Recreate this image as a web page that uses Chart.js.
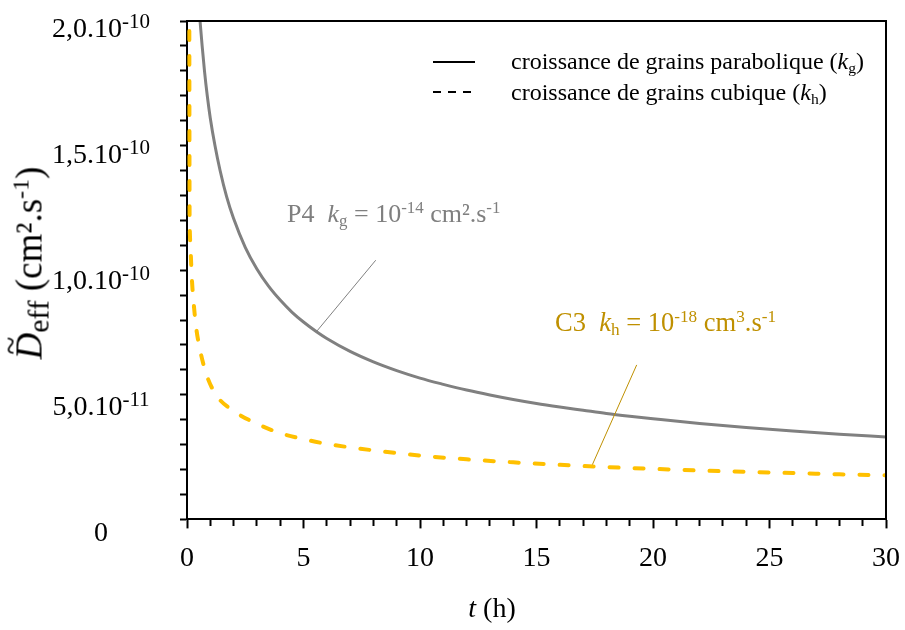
<!DOCTYPE html>
<html>
<head>
<meta charset="utf-8">
<script src="https://cdn.jsdelivr.net/npm/chart.js@4.4.0/dist/chart.umd.min.js"></script>
<style>
  html, body { margin: 0; padding: 0; background: #fff; }
  #cadre { position: relative; width: 905px; height: 630px; font-family: "Liberation Serif", "Times New Roman", serif; color: #000; }
  #cadre canvas { position: absolute; left: 0; top: 0; }
  .txt { position: absolute; white-space: pre; line-height: 1; }
  .txt sup, .txt sub { font-size: 65%; line-height: 0; }
  .txt sup { vertical-align: 0.55em; }
  .txt sub { vertical-align: -0.25em; }
  .trait { position: absolute; height: 2px; }
</style>
</head>
<body>
<div id="cadre">
  <canvas id="graf" width="905" height="630"></canvas>

  <div class="trait" style="left:433px; top:61px; width:42px; background:#000;"></div>
  <div class="trait" style="left:433px; top:91px; width:39px; background:repeating-linear-gradient(to right, #000 0 8.5px, transparent 8.5px 15px);"></div>
  <div class="txt" style="left:511px; top:49px; font-size:24px;">croissance de grains parabolique (<i>k</i><sub>g</sub>)</div>
  <div class="txt" style="left:511px; top:80px; font-size:24px;">croissance de grains cubique (<i>k</i><sub>h</sub>)</div>

  <div class="txt" style="left:287px; top:201px; font-size:26px; color:#7f7f7f;">P4  <i>k</i><sub>g</sub> = 10<sup>-14</sup> cm².s<sup>-1</sup></div>
  <div class="txt" style="left:555px; top:309px; font-size:26.5px; color:#bf9000;">C3  <i>k</i><sub>h</sub> = 10<sup>-18</sup> cm<sup>3</sup>.s<sup>-1</sup></div>

  <div class="txt" style="left:29px; top:263px; font-size:37px; transform:translate(-50%,-50%) rotate(-90deg);"><span style="position:relative; display:inline-block;"><i>D</i><span style="position:absolute; left:0.14em; top:-0.5em; font-size:0.9em;">~</span></span><sub style="font-size:80%">eff</sub> (cm².s<sup style="font-size:65%">-1</sup>)</div>
  <div class="txt" style="left:492px; top:608px; font-size:28px; transform:translate(-50%,-50%);"><i>t</i> (h)</div>
</div>

<script>
// D_eff en unités de 1e-12 cm².s-1, t en heures
const tGris = [0.56, 0.65, 0.75, 0.87, 1, 1.2, 1.42, 1.7, 2, 2.5, 3, 3.5, 4, 4.5, 5, 5.56, 6, 7, 8, 9, 10,
               11, 12, 13, 14, 15, 16, 17, 18, 19, 20, 22, 24, 26, 28, 30];
const dGris = [200, 190, 180, 170, 161, 150, 140, 129.5, 120.7, 109.2, 100.5, 93.6, 88, 83.2, 79.2, 75.3, 72.6, 67.4, 63.2, 59.7, 56.7,
               54.2, 51.9, 49.9, 48.1, 46.5, 45.1, 43.8, 42.5, 41.4, 40.4, 38.5, 36.9, 35.5, 34.2, 33.1];

const tJaune = [0.1, 0.11, 0.12, 0.16, 0.21, 0.29, 0.39, 0.57, 0.85, 1.27, 2, 3, 4, 5, 6, 7, 8, 9, 10,
                12, 14, 16, 18, 20, 22, 24, 26, 28, 30];
const dJaune = [196, 125, 116, 107, 96.4, 86.4, 77.2, 67.6, 57.7, 49.7, 43.5, 38.4, 34.6, 32.2, 30.3, 28.9, 27.7, 26.6, 25.6,
                24.1, 22.9, 21.9, 21.0, 20.3, 19.6, 19.1, 18.6, 18.1, 17.7];

// étiquettes de l'axe Y (tous les 50e-12) : mantisse + exposant
const yTicksValeurs = [0, 50, 100, 150, 200];
const yTicksMantisse = ['0', '5,0.10', '1,0.10', '1,5.10', '2,0.10'];
const yTicksExposant = ['', '-11', '-10', '-10', '-10'];
const xTicksLabels = [0, 5, 10, 15, 20, 25, 30];

// traits de rappel des annotations : [t1, D1, t2, D2]
const rappelGris = [5.56, 75.4, 8.1, 104];
const rappelJaune = [17.4, 22.0, 19.3, 62];

const GRIS = '#808080', JAUNE = '#ffc000', OR = '#bf9000', NOIR = '#000';
const POLICE = 'Liberation Serif';

const enPoints = (ts, ds) => ts.map((t, i) => ({ x: t, y: ds[i] }));

const pluginCadre = {
  id: 'cadre',
  afterDatasetsDraw(chart) {
    const { ctx, chartArea: a, scales: { x, y } } = chart;
    ctx.save();
    ctx.lineWidth = 1;
    [[rappelGris, GRIS], [rappelJaune, OR]].forEach(([r, c]) => {
      ctx.strokeStyle = c;
      ctx.beginPath();
      ctx.moveTo(x.getPixelForValue(r[0]), y.getPixelForValue(r[1]));
      ctx.lineTo(x.getPixelForValue(r[2]), y.getPixelForValue(r[3]));
      ctx.stroke();
    });
    // bords haut et droit
    ctx.strokeStyle = NOIR;
    ctx.lineWidth = 2;
    ctx.beginPath();
    ctx.moveTo(a.left, a.top);
    ctx.lineTo(a.right, a.top);
    ctx.lineTo(a.right, a.bottom);
    ctx.stroke();
    ctx.restore();
  },
  afterDraw(chart) {
    // étiquettes Y avec exposant (centrées comme dans Excel)
    const { ctx, scales: { y } } = chart;
    const centre = y.left - 79;
    ctx.save();
    ctx.fillStyle = NOIR;
    ctx.textBaseline = 'alphabetic';
    ctx.textAlign = 'left';
    yTicksValeurs.forEach((v, i) => {
      const base = y.getPixelForValue(v) + 16 + 0.03 * (200 - v);
      ctx.font = `28px "${POLICE}"`;
      const w1 = ctx.measureText(yTicksMantisse[i]).width;
      ctx.font = `21px "${POLICE}"`;
      const w2 = ctx.measureText(yTicksExposant[i]).width;
      const x0 = centre - (w1 + w2) / 2;
      ctx.font = `28px "${POLICE}"`;
      ctx.fillText(yTicksMantisse[i], x0, base);
      ctx.font = `21px "${POLICE}"`;
      ctx.fillText(yTicksExposant[i], x0 + w1, base - 9);
    });
    ctx.restore();
  }
};

new Chart(document.getElementById('graf'), {
  type: 'line',
  data: {
    datasets: [
      { label: 'croissance de grains parabolique (kg)', data: enPoints(tGris, dGris),
        borderColor: GRIS, borderWidth: 3, pointRadius: 0, cubicInterpolationMode: 'monotone' },
      { label: 'croissance de grains cubique (kh)', data: enPoints(tJaune, dJaune),
        borderColor: JAUNE, borderWidth: 4, borderDash: [9, 16], borderCapStyle: 'round',
        pointRadius: 0, cubicInterpolationMode: 'monotone' },
    ],
  },
  options: {
    responsive: false,
    animation: false,
    devicePixelRatio: 1,
    layout: { padding: { left: 180, top: 21, right: 19, bottom: 42 } },
    plugins: { legend: { display: false }, tooltip: { enabled: false } },
    scales: {
      x: {
        type: 'linear', min: 0, max: 30,
        afterFit: (s) => { s.paddingLeft = 0; s.paddingRight = 0; },
        border: { display: true, color: NOIR, width: 2 },
        grid: {
          drawOnChartArea: false, tickLength: 9, tickColor: NOIR, tickWidth: 2,
          tickBorderDash: (c) => (c.tick && c.tick.value % 5 === 0 ? [] : [6, 50]),
        },
        ticks: {
          stepSize: 1, autoSkip: false, maxRotation: 0, padding: 13, color: NOIR,
          font: { family: POLICE, size: 28 },
          callback: (v) => (xTicksLabels.includes(v) ? String(v) : ''),
        },
      },
      y: {
        min: 0, max: 200,
        border: { display: true, color: NOIR, width: 2 },
        grid: { drawOnChartArea: false, tickLength: 7, tickColor: NOIR, tickWidth: 2 },
        ticks: { stepSize: 10, autoSkip: false, display: false },
      },
    },
  },
  plugins: [pluginCadre],
});
</script>
</body>
</html>
